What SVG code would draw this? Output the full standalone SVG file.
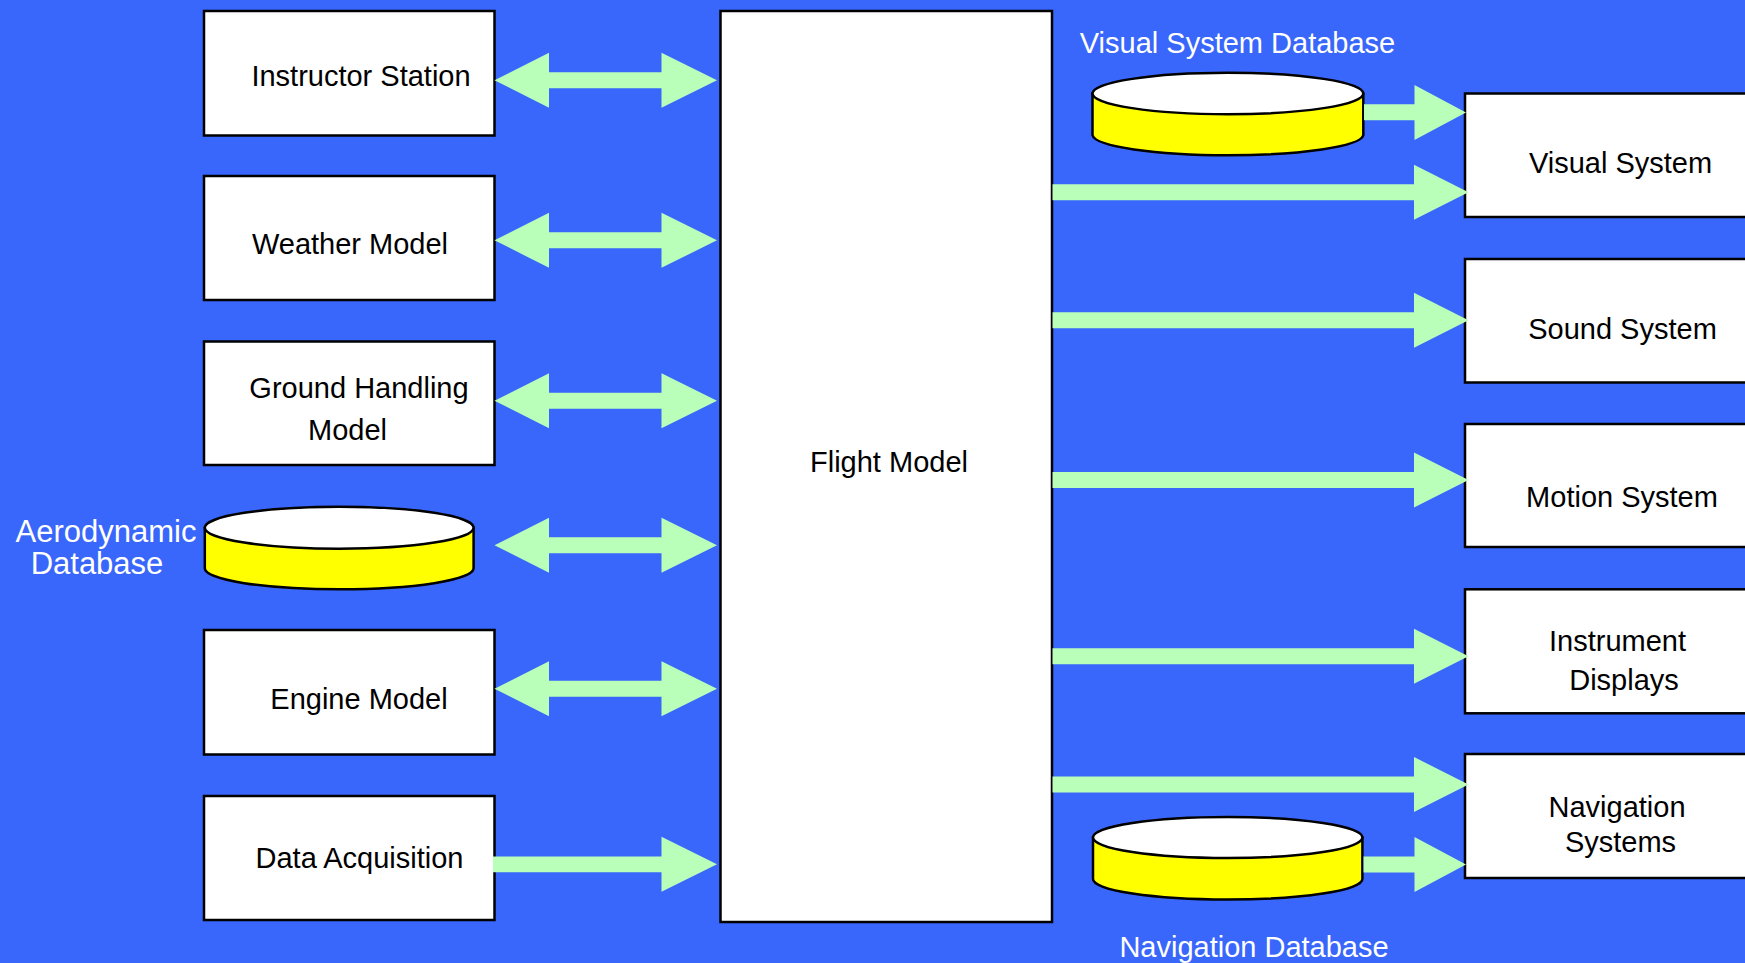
<svg xmlns="http://www.w3.org/2000/svg" width="1745" height="963" viewBox="0 0 1745 963">
<style>
.bg{fill:#3966FB}
.box{fill:#FFFFFF;stroke:#000;stroke-width:2.5}
.cylside{fill:#FFFF00;stroke:#000;stroke-width:2.5}
.cyltop{fill:#FFFFFF;stroke:#000;stroke-width:2.5}
.arr{fill:#B9FFBA}
.t{font-family:"Liberation Sans",Arial,sans-serif;font-size:29px;fill:#000;text-anchor:middle}
.w{font-family:"Liberation Sans",Arial,sans-serif;font-size:29px;fill:#FFFFFF;text-anchor:middle}
</style>
<rect class="bg" x="0" y="0" width="1745" height="963"/>

<g id="instructor-station"><rect class="box" x="204" y="11" width="290.5" height="124.5"/><text class="t" x="361" y="86">Instructor Station</text></g>
<g id="weather-model"><rect class="box" x="204" y="176" width="290.5" height="124"/><text class="t" x="350" y="254">Weather Model</text></g>
<g id="ground-handling-model"><rect class="box" x="204" y="341.5" width="290.5" height="123.5"/><text class="t" x="359" y="398">Ground Handling</text><text class="t" x="347.5" y="440">Model</text></g>
<g id="aerodynamic-database">
<path class="cylside" d="M204.8,527.7 L204.8,568.3 A134.4,21 0 0 0 473.6,568.3 L473.6,527.7 Z"/>
<ellipse class="cyltop" cx="339.2" cy="527.7" rx="134.4" ry="21"/>
<text class="w" style="font-size:31px" x="106" y="541.5">Aerodynamic</text><text class="w" style="font-size:31px" x="97" y="574">Database</text></g>
<g id="engine-model"><rect class="box" x="204" y="630" width="290.5" height="124.5"/><text class="t" x="359" y="709">Engine Model</text></g>
<g id="data-acquisition"><rect class="box" x="204" y="796" width="290.5" height="124"/><text class="t" x="359.5" y="868">Data Acquisition</text></g>

<g id="flight-model"><rect class="box" x="720.5" y="11" width="331.5" height="911"/><text class="t" x="889" y="471.5">Flight Model</text></g>

<g id="visual-system-database">
<text class="w" x="1237.5" y="53">Visual System Database</text>
<path class="cylside" d="M1092.5,93.5 L1092.5,135.3 A135.5,20.7 0 0 0 1363.3,135.3 L1363.3,93.5 Z"/>
<ellipse class="cyltop" cx="1227.9" cy="93.5" rx="135.4" ry="20.7"/></g>
<g id="navigation-database">
<path class="cylside" d="M1093,837.5 L1093,879 A134.7,20.5 0 0 0 1362.4,879 L1362.4,837.5 Z"/>
<ellipse class="cyltop" cx="1227.7" cy="837.5" rx="134.7" ry="20.5"/>
<text class="w" x="1254" y="956.5">Navigation Database</text></g>

<g id="visual-system"><rect class="box" x="1465" y="93.5" width="295" height="123.5"/><text class="t" x="1620.5" y="173">Visual System</text></g>
<g id="sound-system"><rect class="box" x="1465" y="259" width="295" height="123.5"/><text class="t" x="1622.5" y="339">Sound System</text></g>
<g id="motion-system"><rect class="box" x="1465" y="424" width="295" height="123"/><text class="t" x="1622" y="506.5">Motion System</text></g>
<g id="instrument-displays"><rect class="box" x="1465" y="589.3" width="295" height="124"/><text class="t" x="1617.5" y="651">Instrument</text><text class="t" x="1624" y="690">Displays</text></g>
<g id="navigation-systems"><rect class="box" x="1465" y="754" width="295" height="124"/><text class="t" x="1617" y="816.5">Navigation</text><text class="t" x="1620.5" y="851.5">Systems</text></g>

<g id="connectors">
<polygon class="arr" points="494.5,80.3 549,52.8 549,72.3 661.5,72.3 661.5,52.8 717,80.3 661.5,107.8 661.5,88.3 549,88.3 549,107.8"/>
<polygon class="arr" points="494.5,240.3 549,212.8 549,232.3 661.5,232.3 661.5,212.8 717,240.3 661.5,267.8 661.5,248.3 549,248.3 549,267.8"/>
<polygon class="arr" points="494.5,400.7 549,373.2 549,392.7 661.5,392.7 661.5,373.2 717,400.7 661.5,428.2 661.5,408.7 549,408.7 549,428.2"/>
<polygon class="arr" points="494.5,545.3 549,517.8 549,537.3 661.5,537.3 661.5,517.8 717,545.3 661.5,572.8 661.5,553.3 549,553.3 549,572.8"/>
<polygon class="arr" points="494.5,688.7 549,661.2 549,680.7 661.5,680.7 661.5,661.2 717,688.7 661.5,716.2 661.5,696.7 549,696.7 549,716.2"/>
<polygon class="arr" points="493,856.5 661.5,856.5 661.5,836.8 717,864.3 661.5,891.8 661.5,872.3 493,872.3"/>

<polygon class="arr" points="1364,104.3 1414.5,104.3 1414.5,85 1466,112.5 1414.5,140 1414.5,120.3 1364,120.3"/>
<polygon class="arr" points="1052.5,184.3 1414,184.3 1414,164.8 1468.5,192.3 1414,219.8 1414,200.3 1052.5,200.3"/>
<polygon class="arr" points="1052.5,312.3 1414,312.3 1414,292.8 1468.5,320.3 1414,347.8 1414,328.3 1052.5,328.3"/>
<polygon class="arr" points="1052.5,472 1414,472 1414,452.5 1468.5,480 1414,507.5 1414,488 1052.5,488"/>
<polygon class="arr" points="1052.5,648.3 1414,648.3 1414,628.8 1468.5,656.3 1414,683.8 1414,664.3 1052.5,664.3"/>
<polygon class="arr" points="1052.5,776.5 1414,776.5 1414,757 1468.5,784.5 1414,812 1414,792.5 1052.5,792.5"/>
<polygon class="arr" points="1363.5,856.5 1414.5,856.5 1414.5,837 1466,864.5 1414.5,892 1414.5,872.5 1363.5,872.5"/>
</g>
</svg>
